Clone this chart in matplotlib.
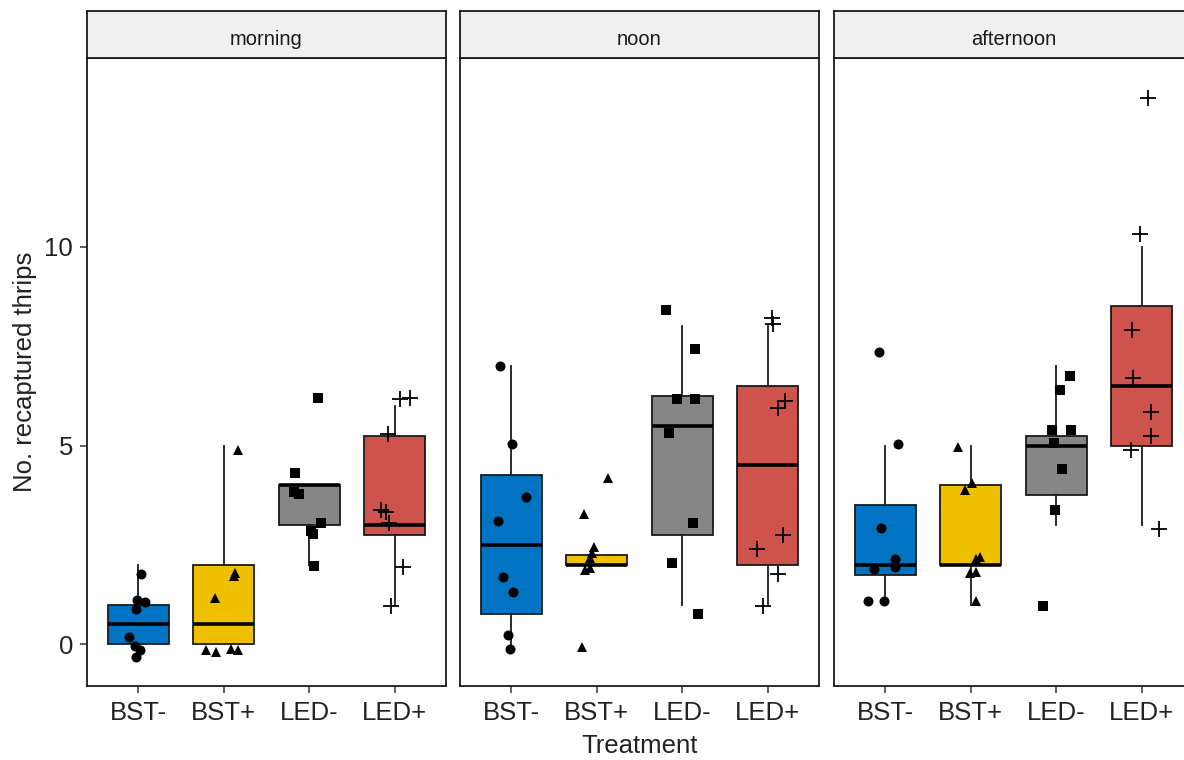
import matplotlib
matplotlib.use("Agg")
import matplotlib.pyplot as plt
import numpy as np

plt.rcParams['font.family'] = ['Liberation Sans', 'DejaVu Sans']

periods = ["morning", "noon", "afternoon"]
treatments = ["BST-", "BST+", "LED-", "LED+"]
colors = ["#0073C2", "#EFC000", "#868686", "#CD534C"]
markers = ["o", "^", "s", "+"]

# box statistics per period, per treatment: (q1, median, q3, whisker_low, whisker_high)
box_morning = [(0, 0.5, 1, 0, 2), (0, 0.5, 2, 0, 5), (3, 4, 4, 2, 4), (2.75, 3, 5.25, 1, 6)]
box_noon = [(0.75, 2.5, 4.25, 0, 7), (2, 2, 2.25, 2, 2.25), (2.75, 5.5, 6.25, 1, 8), (2, 4.5, 6.5, 1, 8)]
box_afternoon = [(1.75, 2, 3.5, 1, 5), (2, 2, 4, 1, 5), (3.75, 5, 5.25, 3, 7), (5, 6.5, 8.5, 3, 10)]

# jittered observations (y as plotted) and horizontal jitter offsets
y_morning = [
    [1.76, 1.11, 1.06, 0.88, 0.19, -0.04, -0.14, -0.33],
    [4.88, 1.80, 1.73, 1.17, -0.14, -0.19, -0.11, -0.14],
    [6.20, 4.31, 3.84, 3.79, 3.06, 2.85, 2.78, 1.97],
    [6.16, 6.20, 5.28, 3.38, 3.33, 3.06, 1.95, 0.96],
]
dx_morning = [
    [0.035, -0.012, 0.075, -0.023, -0.109, -0.042, 0.016, -0.023],
    [0.166, 0.127, 0.116, -0.106, -0.205, -0.088, 0.081, 0.166],
    [0.100, -0.164, -0.182, -0.124, 0.140, 0.020, 0.040, 0.055],
    [0.057, 0.174, -0.080, -0.158, -0.099, -0.068, 0.096, -0.048],
]
y_noon = [
    [7.01, 5.03, 3.71, 3.10, 1.68, 1.31, 0.23, -0.11],
    [4.19, 3.27, 2.45, 2.30, 2.18, 1.86, 1.93, -0.08],
    [8.40, 7.43, 6.17, 6.16, 5.32, 3.06, 2.05, 0.75],
    [8.20, 8.07, 6.12, 5.95, 2.74, 2.39, 1.78, 0.96],
]
dx_noon = [
    [-0.132, 0.005, 0.172, -0.152, -0.094, 0.023, -0.035, -0.015],
    [0.127, -0.150, -0.029, -0.060, -0.080, -0.138, -0.080, -0.177],
    [-0.190, 0.152, -0.065, 0.152, -0.152, 0.122, -0.120, 0.180],
    [0.046, 0.064, 0.200, 0.123, 0.181, -0.130, 0.123, -0.053],
]
y_afternoon = [
    [7.35, 5.05, 2.93, 2.14, 1.95, 1.90, 1.09, 1.09],
    [4.97, 4.06, 3.87, 2.20, 2.15, 1.80, 1.82, 1.09],
    [6.76, 6.39, 5.38, 5.40, 5.07, 4.41, 3.37, 0.96],
    [13.74, 10.33, 7.91, 6.70, 5.84, 5.23, 4.88, 2.91],
]
dx_afternoon = [
    [-0.074, 0.149, -0.047, 0.110, 0.110, -0.136, -0.202, -0.015],
    [-0.150, 0.018, -0.071, 0.104, 0.064, -0.013, 0.057, 0.064],
    [0.157, 0.047, -0.050, 0.175, -0.030, 0.070, -0.019, -0.156],
    [0.073, -0.025, -0.111, -0.103, 0.104, 0.104, -0.130, 0.200],
]

boxes = [box_morning, box_noon, box_afternoon]
ys = [y_morning, y_noon, y_afternoon]
dxs = [dx_morning, dx_noon, dx_afternoon]

W, H = 1184, 760
fig = plt.figure(figsize=(W / 100, H / 100), dpi=100)

lefts = [87, 460, 834]
pw = 359
ptop, pbot = 58, 686
stop = 11

for p, period in enumerate(periods):
    ax = fig.add_axes([lefts[p] / W, (H - pbot) / H, pw / W, (pbot - ptop) / H])
    sax = fig.add_axes([lefts[p] / W, (H - ptop) / H, pw / W, (ptop - stop) / H])
    sax.set_facecolor("#F0F0F0")
    sax.set_xticks([]); sax.set_yticks([])
    for s in sax.spines.values():
        s.set_color("#1a1a1a"); s.set_linewidth(1.3)
    sax.text(0.5, 0.40, period, ha="center", va="center", fontsize=14.5, color="#1a1a1a",
             transform=sax.transAxes)

    stats = []
    for (q1, med, q3, lo, hi) in boxes[p]:
        stats.append(dict(q1=q1, med=med, q3=q3, whislo=lo, whishi=hi, fliers=[]))
    bp = ax.bxp(stats, positions=np.arange(4), widths=0.71, patch_artist=True,
                showcaps=False, showfliers=False,
                boxprops=dict(edgecolor="#1a1a1a", linewidth=1.3),
                whiskerprops=dict(color="#1a1a1a", linewidth=1.3),
                medianprops=dict(color="black", linewidth=2.6))
    for patch, c in zip(bp["boxes"], colors):
        patch.set_facecolor(c)

    for i in range(4):
        xs = np.arange(4)[i] + np.array(dxs[p][i])
        if markers[i] == "+":
            ax.plot(xs, ys[p][i], linestyle="none", marker="+", color="black",
                    markersize=11, markeredgewidth=1.3, zorder=5)
        else:
            ms = {"o": 7.2, "^": 7.4, "s": 6.6}[markers[i]]
            ax.plot(xs, ys[p][i], linestyle="none", marker=markers[i], color="black",
                    markersize=ms, markeredgewidth=0, zorder=5)

    ax.set_xlim(-0.6, 3.6)
    ax.set_ylim(-1.05, 14.75)
    ax.set_xticks(np.arange(4))
    ax.set_xticklabels(treatments)
    ax.tick_params(axis="x", length=5, width=1.1, color="#333333", labelsize=18.5,
                   labelcolor="#222222", pad=6)
    if p == 0:
        ax.set_yticks([0, 5, 10])
        ax.tick_params(axis="y", length=5, width=1.1, color="#333333", labelsize=18.5,
                       labelcolor="#222222", pad=5)
    else:
        ax.set_yticks([])
    for s in ax.spines.values():
        s.set_color("#1a1a1a"); s.set_linewidth(1.3)

fig.text(25 / W, (H - 372) / H, "No. recaptured thrips", rotation=90, ha="center", va="center",
         fontsize=18.5, color="#222222")
fig.text(640 / W, (H - 746) / H, "Treatment", ha="center", va="center",
         fontsize=18.5, color="#222222")

fig.savefig("out.png", dpi=100)
